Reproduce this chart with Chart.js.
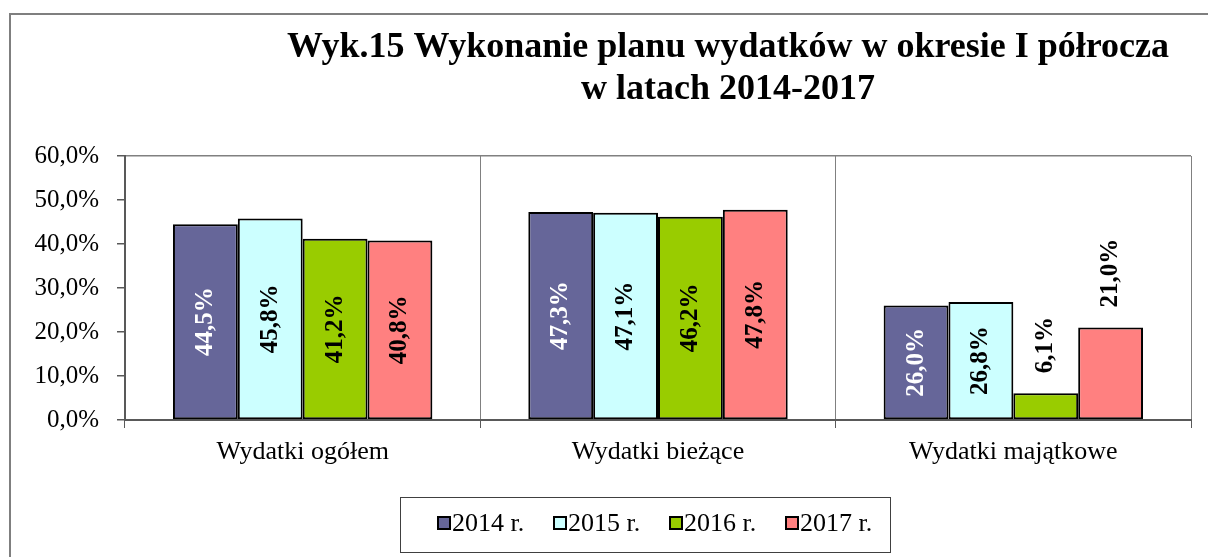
<!DOCTYPE html>
<html>
<head>
<meta charset="utf-8">
<script src="https://cdn.jsdelivr.net/npm/chart.js@4.4.1/dist/chart.umd.min.js"></script>
<style>
  html, body { margin: 0; padding: 0; background: #fff; }
</style>
</head>
<body>
<canvas id="chart" width="1208" height="557"></canvas>
<script>
const categories = ['Wydatki ogółem', 'Wydatki bieżące', 'Wydatki majątkowe'];
const seriesLabels = ['2014 r.', '2015 r.', '2016 r.', '2017 r.'];
const values2014 = [44.5, 47.3, 26.0];
const values2015 = [45.8, 47.1, 26.8];
const values2016 = [41.2, 46.2, 6.1];
const values2017 = [40.8, 47.8, 21.0];
const yTicks = [0, 10, 20, 30, 40, 50, 60];
const titleLines = ['Wyk.15 Wykonanie planu wydatków w okresie I półrocza', 'w latach 2014-2017'];

const SERIF = '"Liberation Serif", "Times New Roman", serif';
const fmt = v => v.toFixed(1).replace('.', ',') + '%';

// bars shorter than this get the label above them (as in the excel original)
const insideMin = 25;

const decor = {
  id: 'decor',
  beforeDraw(chart) {
    const ctx = chart.ctx;
    ctx.save();
    ctx.fillStyle = '#fff';
    ctx.fillRect(0, 0, chart.width, chart.height);
    // outer frame
    ctx.strokeStyle = '#7f7f7f';
    ctx.lineWidth = 2;
    ctx.beginPath();
    ctx.moveTo(10, chart.height);
    ctx.lineTo(10, 14);
    ctx.lineTo(chart.width, 14);
    ctx.stroke();
    // title
    ctx.fillStyle = '#000';
    ctx.font = 'bold 36px ' + SERIF;
    ctx.textAlign = 'center';
    ctx.textBaseline = 'alphabetic';
    ctx.fillText(titleLines[0], 728, 57);
    ctx.fillText(titleLines[1], 728, 99);
    ctx.restore();
  },
  afterDatasetsDraw(chart) {
    const ctx = chart.ctx;
    ctx.save();
    ctx.font = 'bold 25px ' + SERIF;
    ctx.textBaseline = 'middle';
    chart.data.datasets.forEach((ds, i) => {
      chart.getDatasetMeta(i).data.forEach((bar, j) => {
        const v = ds.data[j];
        ctx.save();
        ctx.translate(bar.x, 0);
        ctx.rotate(-Math.PI / 2);
        if (v >= insideMin) {
          ctx.fillStyle = ds.labelColor;
          ctx.textAlign = 'center';
          ctx.fillText(fmt(v), -(bar.y + bar.base) / 2, 0);
        } else {
          ctx.fillStyle = '#000';
          ctx.textAlign = 'left';
          ctx.fillText(fmt(v), -(bar.y - 20), 0);
        }
        ctx.restore();
      });
    });
    ctx.restore();
  },
  afterDraw(chart) {
    const ctx = chart.ctx;
    ctx.save();
    ctx.strokeStyle = '#404040';
    ctx.lineWidth = 1;
    ctx.strokeRect(400.5, 497.5, 490, 55);
    ctx.font = '26px ' + SERIF;
    ctx.textBaseline = 'middle';
    ctx.textAlign = 'left';
    chart.data.datasets.forEach((ds, i) => {
      const x = 438 + i * 116;
      ctx.fillStyle = ds.backgroundColor;
      ctx.fillRect(x, 517, 12, 12);
      ctx.strokeStyle = '#000';
      ctx.lineWidth = 2;
      ctx.strokeRect(x, 517, 12, 12);
      ctx.fillStyle = '#000';
      ctx.fillText(ds.label, x + 14, 524);
    });
    ctx.restore();
  }
};

const makeSet = (label, data, color, labelColor) => ({
  label, data,
  backgroundColor: color,
  borderColor: '#000',
  borderWidth: 2,
  borderSkipped: false,
  barPercentage: 1,
  categoryPercentage: 0.73,
  labelColor
});

new Chart(document.getElementById('chart'), {
  type: 'bar',
  data: {
    labels: categories,
    datasets: [
      makeSet(seriesLabels[0], values2014, '#666699', '#fff'),
      makeSet(seriesLabels[1], values2015, '#ccffff', '#000'),
      makeSet(seriesLabels[2], values2016, '#99cc00', '#000'),
      makeSet(seriesLabels[3], values2017, '#ff8080', '#000')
    ]
  },
  options: {
    responsive: false,
    animation: false,
    devicePixelRatio: 1,
    layout: { padding: { top: 156, right: 17, left: 0, bottom: 0 } },
    plugins: {
      legend: { display: false },
      title: { display: false },
      tooltip: { enabled: false }
    },
    scales: {
      x: {
        offset: true,
        grid: { offset: true, color: '#808080', lineWidth: 1, tickLength: 8, tickColor: '#595959' },
        border: { color: '#595959', width: 2 },
        ticks: { color: '#000', font: { family: SERIF, size: 26 }, padding: 9, maxRotation: 0 },
        afterFit: s => { s.height = 137; }
      },
      y: {
        min: 0,
        max: 60,
        afterBuildTicks: s => { s.ticks = yTicks.map(v => ({ value: v })); },
        grid: {
          color: c => (c.tick && c.tick.value === 60 ? '#808080' : 'rgba(0,0,0,0)'),
          lineWidth: 1.5,
          tickLength: 8,
          tickColor: '#595959'
        },
        border: { color: '#595959', width: 2 },
        ticks: { color: '#000', font: { family: SERIF, size: 25 }, padding: 18, callback: v => fmt(v) },
        afterFit: s => { s.width = 125; }
      }
    }
  },
  plugins: [decor]
});
</script>
</body>
</html>
